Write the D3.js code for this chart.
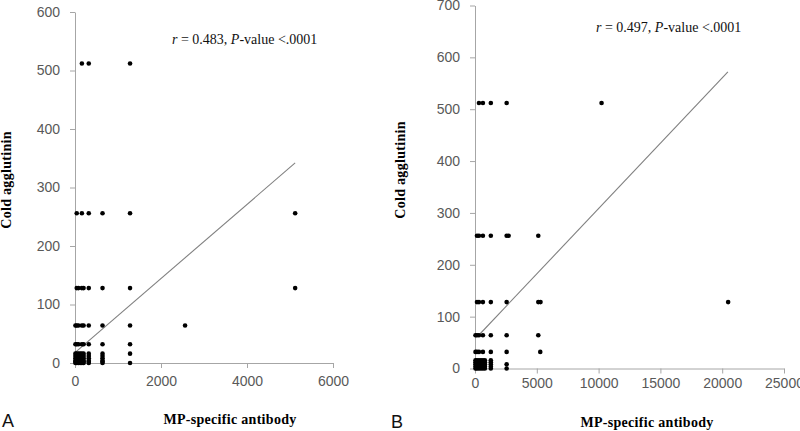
<!DOCTYPE html>
<html><head><meta charset="utf-8">
<script src="https://cdn.jsdelivr.net/npm/d3@7/dist/d3.min.js"></script>
<style>
body{margin:0;background:#fff;}
svg{display:block;}
.tick text{font-family:"Liberation Sans",Arial,sans-serif;font-size:14px;fill:#595959;}
.domain,.tick line{stroke:#a6a6a6;stroke-width:1;}
</style></head>
<body>
<svg id="c" width="800" height="431"></svg>
<script>
// Panel A data (MP-specific antibody titre, cold agglutinin titre)
const aX = [160,320,1280,
  40,160,320,640,1280,5120,
  40,80,160,200,320,640,1280,5120,
  10,40,80,160,200,320,640,1280,2560,
  10,40,80,160,200,320,640,1280,
  10,40,80,120,160,200,320,640,1280,
  10,40,80,120,160,200,320,640,
  10,40,80,120,160,200,320,640,
  10,40,80,120,160,200,320,640,
  10,40,80,120,160,200,320,640,
  10,40,80,120,160,200,320,640,1280];
const aY = [512,512,512,
  256,256,256,256,256,256,
  128,128,128,128,128,128,128,128,
  64,64,64,64,64,64,64,64,64,
  32,32,32,32,32,32,32,32,
  16,16,16,16,16,16,16,16,16,
  12,12,12,12,12,12,12,12,
  8,8,8,8,8,8,8,8,
  4,4,4,4,4,4,4,4,
  2,2,2,2,2,2,2,2,
  0,0,0,0,0,0,0,0,0];
// Panel B data
const bX = [320,640,1280,2560,10240,
  160,320,640,1280,2560,2720,5120,
  160,320,640,1280,2560,5120,5300,20480,
  40,160,320,640,1280,2560,5120,
  40,160,320,640,1280,2560,5280,
  40,160,320,480,640,800,1280,
  40,160,320,480,640,800,1280,
  40,160,320,480,640,800,1280,2560,
  40,160,320,480,640,800,1280,
  40,160,320,480,640,800,1280,2560];
const bY = [512,512,512,512,512,
  256,256,256,256,256,256,256,
  128,128,128,128,128,128,128,128,
  64,64,64,64,64,64,64,
  32,32,32,32,32,32,32,
  16,16,16,16,16,16,16,
  12,12,12,12,12,12,12,
  8,8,8,8,8,8,8,8,
  4,4,4,4,4,4,4,
  0,0,0,0,0,0,0,0];
// Regression line endpoints [x, y]
const aLine = [[20,19],[5120,342]];
const bLine = [[320,64.6],[20460,572]];
// Axis ticks
const aXTicks = [0,2000,4000,6000];
const aYTicks = [0,100,200,300,400,500,600];
const bXTicks = [0,5000,10000,15000,20000,25000];
const bYTicks = [0,100,200,300,400,500,600,700];
const aNote = ["r"," = 0.483, ","P","-value <.0001"];
const bNote = ["r"," = 0.497, ","P","-value <.0001"];
const xTitle = "MP-specific antibody";
const yTitle = "Cold agglutinin";

const svg = d3.select("#c");

function panel(cfg){
  const g = svg.append("g");
  const x = d3.scaleLinear().domain(cfg.xd).range(cfg.xr);
  const y = d3.scaleLinear().domain(cfg.yd).range(cfg.yr);
  g.append("g").attr("transform",`translate(0,${cfg.yr[0]})`)
    .call(d3.axisBottom(x).tickValues(cfg.xt).tickSize(5).tickSizeOuter(0).tickPadding(cfg.xpad).tickFormat(d3.format("d")));
  g.append("g").attr("transform",`translate(${cfg.xr[0]},0)`)
    .call(d3.axisLeft(y).tickValues(cfg.yt).tickSize(5).tickSizeOuter(0).tickPadding(10).tickFormat(d3.format("d")));
  g.append("line")
    .attr("x1",x(cfg.line[0][0])).attr("y1",y(cfg.line[0][1]))
    .attr("x2",x(cfg.line[1][0])).attr("y2",y(cfg.line[1][1]))
    .attr("stroke","#808080").attr("stroke-width",1.1);
  g.selectAll("circle.p").data(d3.range(cfg.px.length)).join("circle")
    .attr("cx",i=>x(cfg.px[i])).attr("cy",i=>y(cfg.py[i])).attr("r",2.3).attr("fill","#000");
  const t = g.append("text").attr("x",cfg.note[0]).attr("y",cfg.note[1])
    .attr("font-family","'Liberation Serif','Times New Roman',serif").attr("font-size",14).attr("fill","#111");
  cfg.noteText.forEach((s,i)=>t.append("tspan").text(s).attr("font-style", i%2===0?"italic":"normal"));
  g.append("text").attr("x",cfg.xt2[0]).attr("y",cfg.xt2[1]).attr("text-anchor","middle")
    .attr("font-family","'Liberation Serif','Times New Roman',serif").attr("font-weight","bold").attr("font-size",14)
    .attr("letter-spacing","0.3px").text(xTitle);
  g.append("text").attr("transform",`translate(${cfg.yt2[0]},${cfg.yt2[1]}) rotate(-90)`).attr("text-anchor","middle")
    .attr("font-family","'Liberation Serif','Times New Roman',serif").attr("font-weight","bold").attr("font-size",14)
    .attr("letter-spacing","0.3px").text(yTitle);
  g.append("text").attr("x",cfg.letter[0]).attr("y",cfg.letter[1])
    .attr("font-family","'Liberation Sans',Arial,sans-serif").attr("font-size",18).attr("fill","#111")
    .text(cfg.letter[2]);
}

panel({xd:[0,6000],xr:[75,333],yd:[0,600],yr:[363,12],xt:aXTicks,yt:aYTicks,xpad:8,
  line:aLine,px:aX,py:aY,note:[172,44],noteText:aNote,xt2:[230,424],yt2:[11,180],letter:[2,427,"A"]});
panel({xd:[0,25000],xr:[475,784],yd:[0,700],yr:[368.5,5.5],xt:bXTicks,yt:bYTicks,xpad:4.5,
  line:bLine,px:bX,py:bY,note:[596,32],noteText:bNote,xt2:[647,427],yt2:[405,170],letter:[391,428,"B"]});
</script>
</body></html>
